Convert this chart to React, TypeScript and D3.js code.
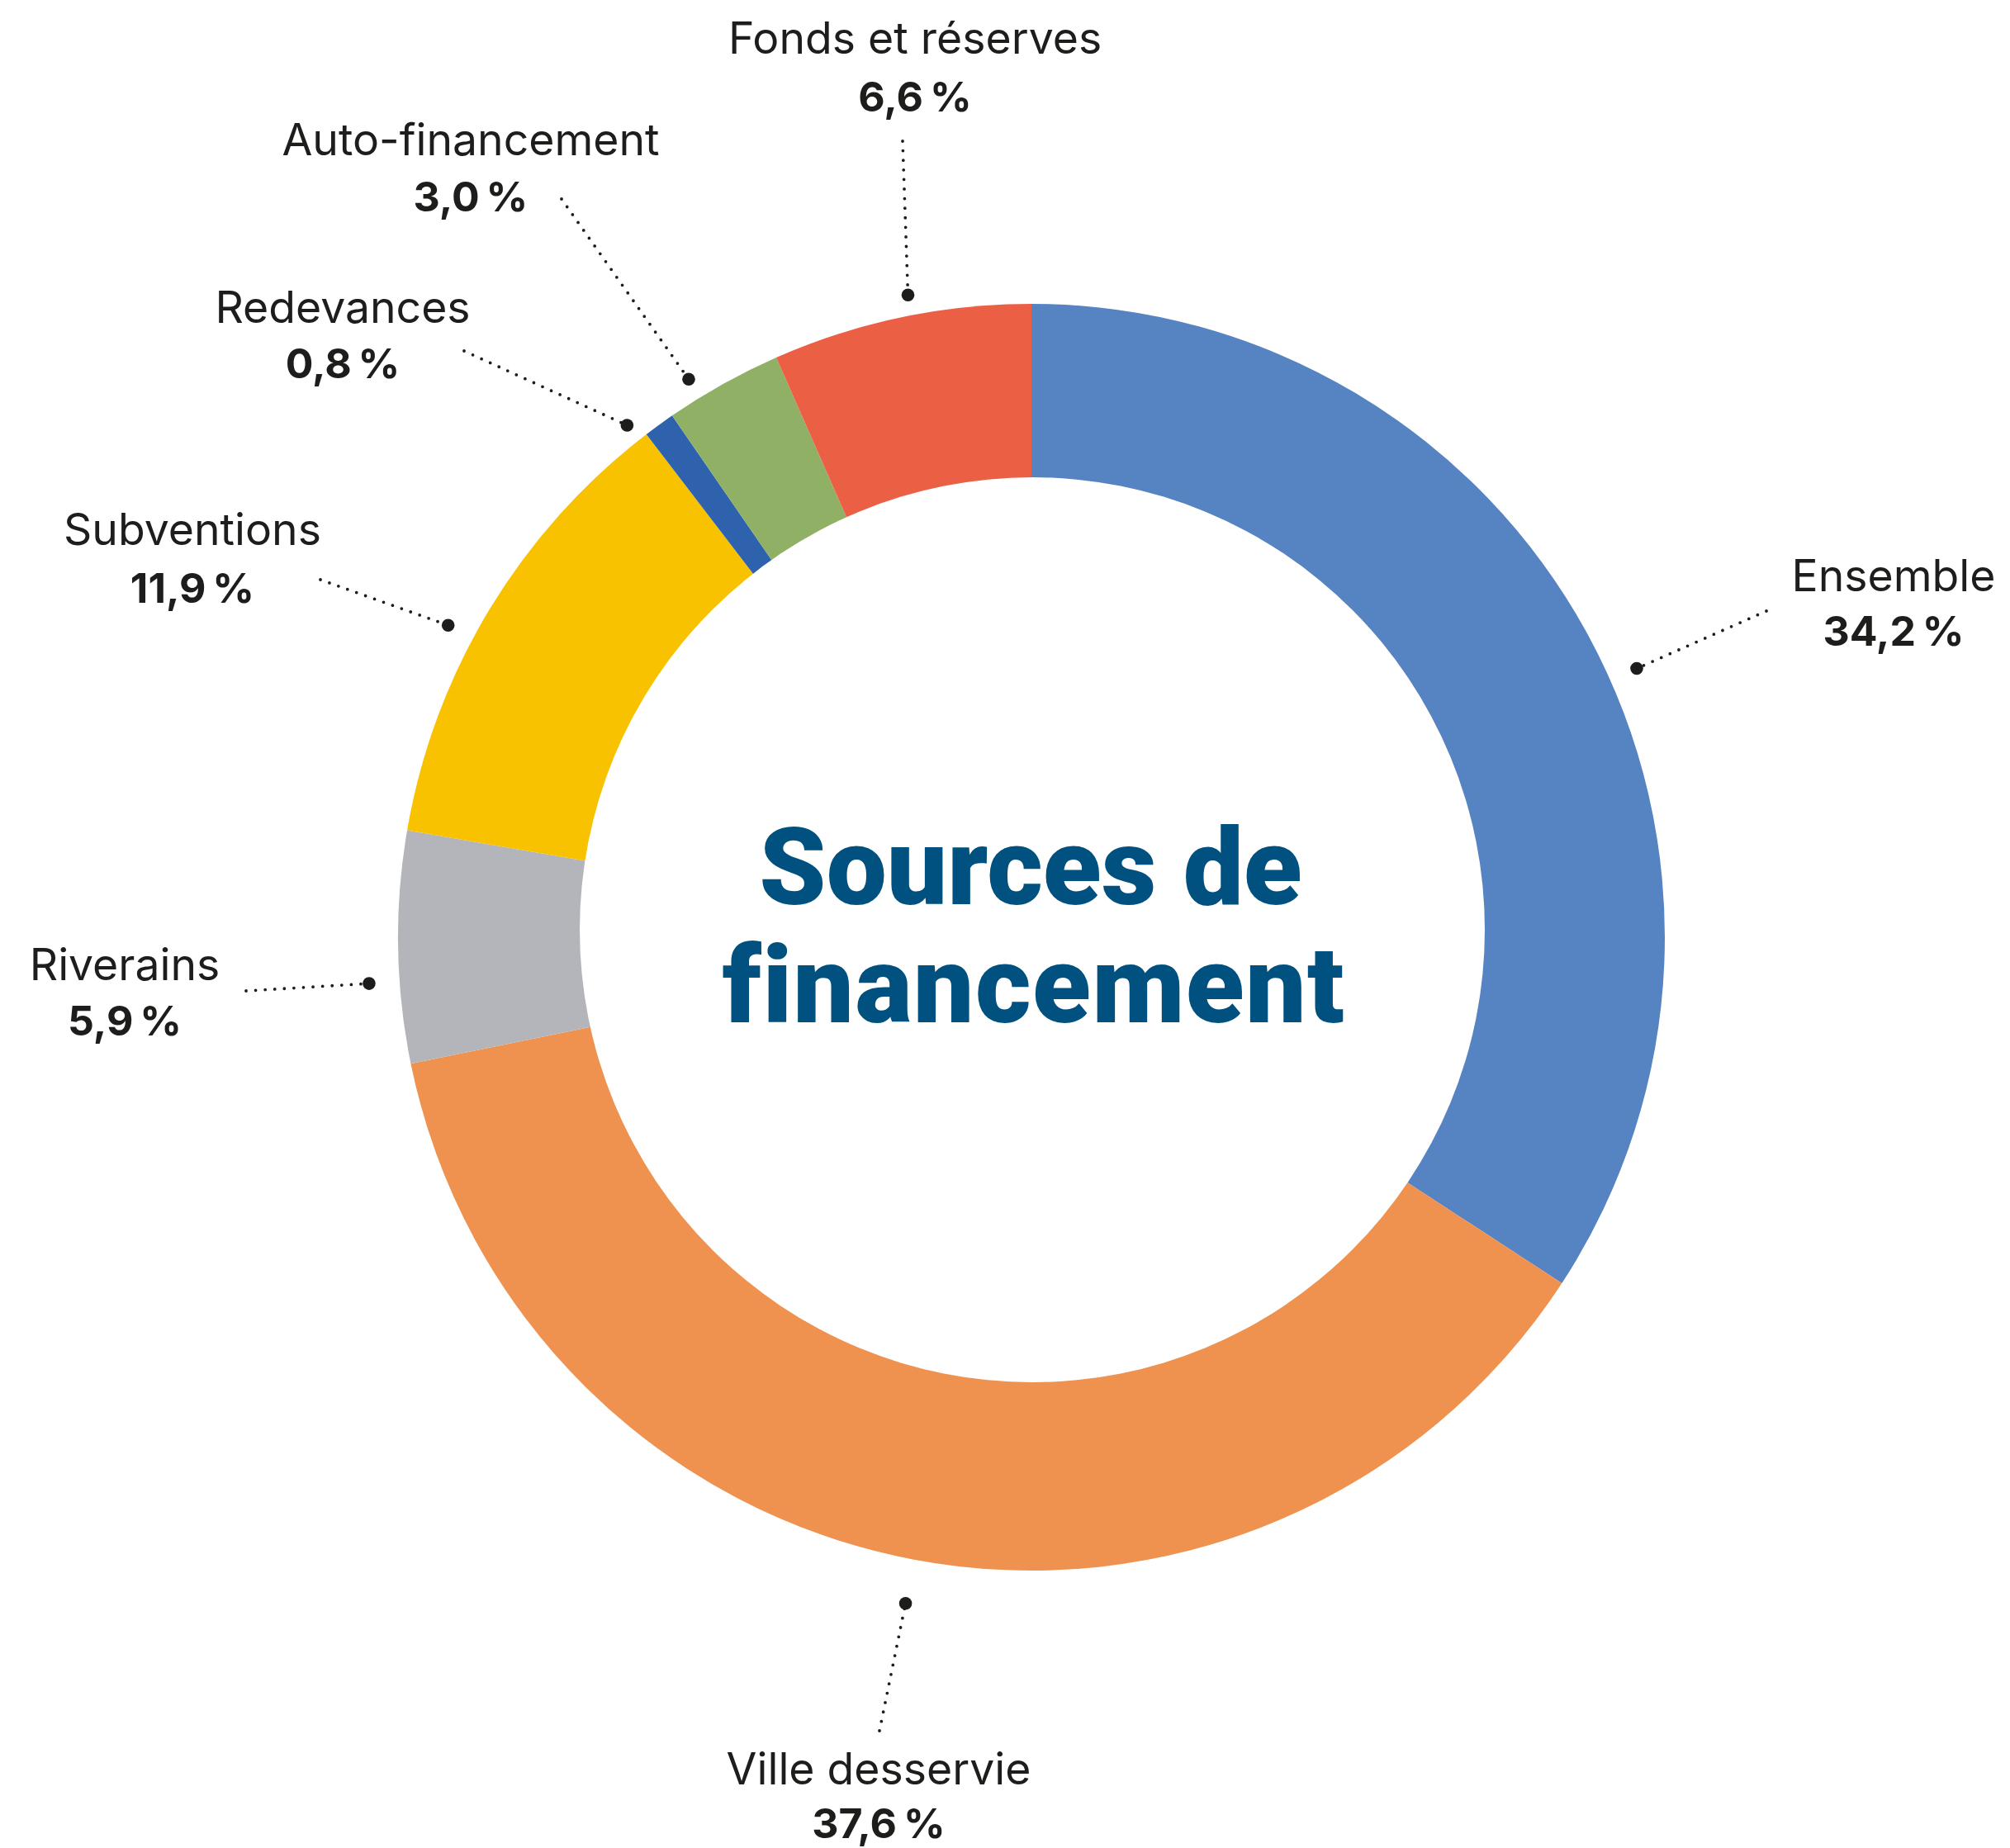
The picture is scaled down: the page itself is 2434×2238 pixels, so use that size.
import React from "react";
import * as d3 from "d3";

// ---- data ----
const categories = [
  "Ensemble",
  "Ville desservie",
  "Riverains",
  "Subventions",
  "Redevances",
  "Auto-financement",
  "Fonds et réserves",
];
const shares = [34.2, 37.6, 5.9, 11.9, 0.8, 3.0, 6.6];
const valueLabels = ["34,2\u202F%", "37,6\u202F%", "5,9\u202F%", "11,9\u202F%", "0,8\u202F%", "3,0\u202F%", "6,6\u202F%"];
const colors = ["#5683C2", "#EF9250", "#B4B5BA", "#F9C200", "#2E62AC", "#90B065", "#EB5F44"];
const titleLines = ["Sources de", "financement"];

// ---- layout (annotation placement) ----
const W = 2434;
const H = 2238;
const CX = 1249;
const CY = 1135;
const R_OUT = 767;
const HOLE = { cx: 1250, cy: 1126, r: 548 };

// label text centre x, name baseline, value baseline, leader start (label side),
// dot angle offset from slice middle (deg) and dot radius
const labelLayout = [
  { x: 2293, yName: 716, yVal: 782, lx: 2139, ly: 740, dAng: 4.5, dR: 802 },
  { x: 1064, yName: 2161, yVal: 2226, lx: 1065, ly: 2096, dAng: -0.1, dR: 821 },
  { x: 151, yName: 1187, yVal: 1254, lx: 298, ly: 1200, dAng: -3.1, dR: 804 },
  { x: 233, yName: 660, yVal: 730, lx: 388, ly: 702, dAng: -3.0, dR: 801 },
  { x: 415, yName: 391, yVal: 458, lx: 562, ly: 425, dAng: -2.3, dR: 790 },
  { x: 570, yName: 188, yVal: 256, lx: 680, ly: 241, dAng: -2.4, dR: 793 },
  { x: 1108, yName: 65, yVal: 135, lx: 1093, ly: 171, dAng: 1.0, dR: 792 },
];

const TEXT = "#1d1d1b";
const LABEL_FONT = "Inter, 'DejaVu Sans', sans-serif";

export default function App() {
  const pie = d3.pie<number>().sort(null).value((d) => d);
  const arcs = pie(shares);
  const arcGen = d3.arc<d3.PieArcDatum<number>>().innerRadius(0).outerRadius(R_OUT);

  return (
    <svg
      width={W}
      height={H}
      viewBox={`0 0 ${W} ${H}`}
      style={{ position: "absolute", left: 0, top: 0, background: "#fff" }}
    >
      <rect x={0} y={0} width={W} height={H} fill="#fff" />
      <g transform={`translate(${CX},${CY})`}>
        {arcs.map((a, i) => (
          <path key={categories[i]} d={arcGen(a) || ""} fill={colors[i]} />
        ))}
      </g>
      <circle cx={HOLE.cx} cy={HOLE.cy} r={HOLE.r} fill="#fff" />

      {arcs.map((a, i) => {
        const L = labelLayout[i];
        const mid = ((a.startAngle + a.endAngle) / 2) + (L.dAng * Math.PI) / 180;
        const dx = CX + Math.sin(mid) * L.dR;
        const dy = CY - Math.cos(mid) * L.dR;
        return (
          <g key={"lab" + i}>
            <line
              x1={L.lx}
              y1={L.ly}
              x2={dx}
              y2={dy}
              stroke={TEXT}
              strokeWidth={3.8}
              strokeDasharray="0 11.6"
              strokeLinecap="round"
            />
            <circle cx={dx} cy={dy} r={7.8} fill={TEXT} />
            <text
              x={L.x}
              y={L.yName}
              textAnchor="middle"
              fontFamily={LABEL_FONT}
              fontSize={53.5}
              fill={TEXT}
            >
              {categories[i]}
            </text>
            <text
              x={L.x}
              y={L.yVal}
              textAnchor="middle"
              fontFamily={LABEL_FONT}
              fontWeight={700}
              fontSize={50}
              fill={TEXT}
            >
              {valueLabels[i]}
            </text>
          </g>
        );
      })}

      <text
        x={1248}
        y={1095}
        textAnchor="middle"
        fontFamily="Roboto, sans-serif"
        fontWeight={900}
        fontSize={130}
        fill="#00517F"
      >
        {titleLines[0]}
      </text>
      <text
        x={1252}
        y={1238}
        textAnchor="middle"
        fontFamily="Roboto, sans-serif"
        fontWeight={900}
        fontSize={130}
        letterSpacing={1.5}
        fill="#00517F"
      >
        {titleLines[1]}
      </text>
    </svg>
  );
}
